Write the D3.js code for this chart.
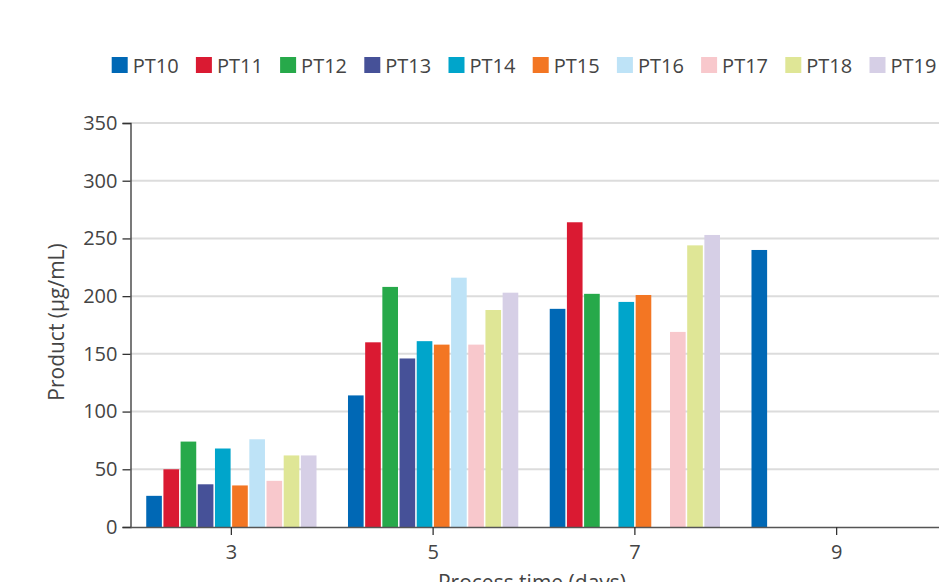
<!DOCTYPE html>
<html><head><meta charset="utf-8">
<script src="https://cdn.jsdelivr.net/npm/d3@7"></script>
<style>
html,body{margin:0;padding:0;background:#fff;}
svg{display:block;font-family:"Open Sans","Noto Sans",sans-serif;}
</style></head>
<body>
<svg id="chart" width="939" height="582"></svg>
<script>
const categories = ["3", "5", "7", "9"];
const seriesNames = ["PT10","PT11","PT12","PT13","PT14","PT15","PT16","PT17","PT18","PT19"];
const seriesColors = ["#0068b5","#da1a32","#27a94a","#465198","#00a5cb","#f37623","#bee3f7","#f8c8cc","#dfe696","#d6cfe6"];
const PT10 = [27, 114, 189, 240];
const PT11 = [50, 160, 264, null];
const PT12 = [74, 208, 202, null];
const PT13 = [37, 146, null, null];
const PT14 = [68, 161, 195, null];
const PT15 = [36, 158, 201, null];
const PT16 = [76, 216, null, null];
const PT17 = [40, 158, 169, null];
const PT18 = [62, 188, 244, null];
const PT19 = [62, 203, 253, null];
const seriesValues = [PT10,PT11,PT12,PT13,PT14,PT15,PT16,PT17,PT18,PT19];
const yTicks = [0,50,100,150,200,250,300,350];

const svg = d3.select("#chart");
const x0 = 130.5, x1 = 937.5, yTop = 123, yBot = 527;

const x = d3.scaleBand().domain(categories).range([x0, x1]).padding(0);
const xi = d3.scaleBand().domain(seriesNames)
  .range([x.bandwidth()*0.078, x.bandwidth()*0.922]).paddingInner(0.09).paddingOuter(0);
const y = d3.scaleLinear().domain([0,350]).range([yBot, yTop]);

// gridlines
svg.append("g").selectAll("line").data(yTicks.filter(d=>d>0)).join("line")
  .attr("x1", x0).attr("x2", 939)
  .attr("y1", d=>y(d)).attr("y2", d=>y(d))
  .attr("stroke", "#dcdcdc").attr("stroke-width", 2);

// bars
const data = [];
categories.forEach((c, ci) => {
  seriesNames.forEach((s, si) => {
    const v = seriesValues[si][ci];
    if (v != null) data.push({c, s, v, color: seriesColors[si]});
  });
});
svg.append("g").selectAll("rect").data(data).join("rect")
  .attr("x", d => x(d.c) + xi(d.s))
  .attr("width", xi.bandwidth())
  .attr("y", d => y(d.v))
  .attr("height", d => y(0) - y(d.v))
  .attr("fill", d => d.color);

// y axis
const yAxis = svg.append("g").attr("transform", `translate(${x0},0)`)
  .call(d3.axisLeft(y).tickValues(yTicks).tickSize(8).tickPadding(5));
yAxis.select(".domain").attr("stroke", "#333").attr("stroke-width", 1.3);
yAxis.selectAll(".tick line").attr("stroke", "#333").attr("stroke-width", 1.3);
yAxis.selectAll(".tick text").attr("fill", "#444").attr("font-size", 20)
  .attr("font-family", "'Open Sans','Noto Sans',sans-serif");

// x axis
const xAxis = svg.append("g").attr("transform", `translate(0,${yBot})`)
  .call(d3.axisBottom(x).tickSize(8).tickPadding(10).tickSizeOuter(0));
xAxis.select(".domain").attr("d", `M${x0},0.5H939`).attr("stroke", "#555").attr("stroke-width", 1.6);
xAxis.selectAll(".tick line").attr("stroke", "#333").attr("stroke-width", 1.3);
xAxis.selectAll(".tick text").attr("fill", "#444").attr("font-size", 20)
  .attr("font-family", "'Open Sans','Noto Sans',sans-serif");

// axis titles
svg.append("text")
  .attr("transform", `translate(64,322) rotate(-90)`)
  .attr("text-anchor", "middle").attr("fill", "#444").attr("font-size", 21)
  .text("Product (µg/mL)");
svg.append("text")
  .attr("x", 532).attr("y", 590)
  .attr("text-anchor", "middle").attr("fill", "#444").attr("font-size", 21)
  .text("Process time (days)");

// legend
const leg = svg.append("g").selectAll("g").data(seriesNames).join("g")
  .attr("transform", (d,i) => `translate(${111.7 + i*84.2},57)`);
leg.append("rect").attr("width", 16).attr("height", 16)
  .attr("fill", (d,i) => seriesColors[i]);
leg.append("text").attr("x", 21).attr("y", 15.5)
  .attr("fill", "#444").attr("font-size", 20).text(d => d);
</script>
</body></html>
